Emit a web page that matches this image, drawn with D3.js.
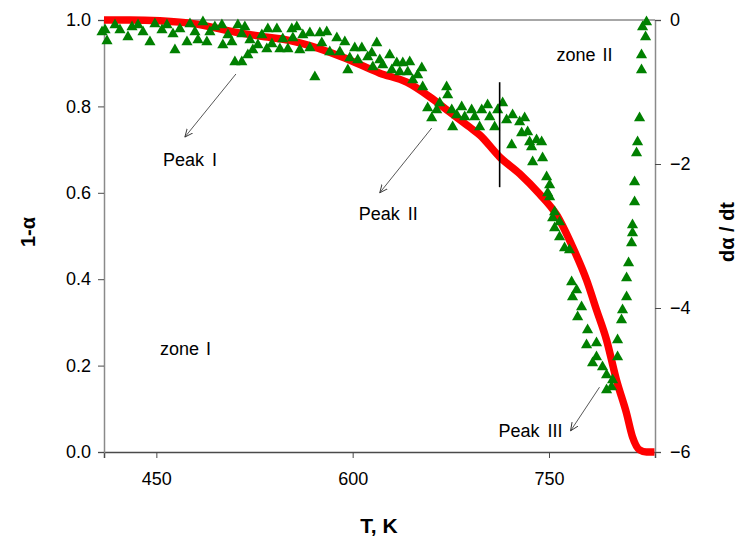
<!DOCTYPE html>
<html>
<head>
<meta charset="utf-8">
<script src="https://cdn.jsdelivr.net/npm/d3@7"></script>
<style>
  body { margin: 0; background: #fff; }
  text { font-family: "Liberation Sans", Arial, sans-serif; }
</style>
</head>
<body>
<div id="chart-area"></div>
<script>
// 1-alpha vs T (red)
var tempRed = [410, 429.8, 452.7, 479.5, 510, 532.9, 545.9, 559.6, 592.4, 620.7, 641.3, 658.9, 674.1,
  689.4, 697, 712.3, 727.6, 742.8, 755.8, 768, 778.7, 786.3, 794, 801.6, 809.2, 813.8, 819.2, 824.5, 830.6];
var convRed = [1.0, 1.0, 0.998, 0.991, 0.972, 0.961, 0.956, 0.947, 0.914, 0.877, 0.856, 0.822, 0.787,
  0.752, 0.734, 0.683, 0.644, 0.597, 0.549, 0.475, 0.398, 0.329, 0.259, 0.166, 0.090, 0.035, 0.005, 0, 0];

// d alpha / dt vs T (green triangles)
var tempGreen = [408.5, 410.8, 412.3, 418.4, 422.2, 428.3, 431.4, 436.0, 439.8, 445.1, 448.9, 454.3, 458.1,
  462.7, 464.2, 468.0, 473.4, 475.7, 479.5, 481.8, 485.6, 488.6, 490.9, 494.7, 500.1, 500.8, 504.7, 507.7,
  510.0, 512.3, 515.3, 515.3, 517.6, 519.9, 521.5, 523.7, 527.6, 530.6, 534.4, 535.2, 538.3, 542.1, 544.4,
  546.6, 550.5, 553.5, 554.3, 557.3, 559.6, 561.9, 567.3, 567.3, 571.1, 574.9, 576.4, 580.2, 582.5, 587.9,
  590.2, 594.0, 596.3, 597.8, 601.6, 603.9, 607.0, 611.5, 614.6, 615.4, 618.4, 620.7, 623.0, 628.3, 629.9,
  633.7, 636.0, 638.3, 642.1, 643.6, 645.9, 649.7, 652.8, 653.5, 657.3, 660.4, 664.2, 666.5, 671.8, 672.6,
  675.7, 676.4, 679.5, 683.3, 685.6, 690.9, 693.2, 697.0, 698.6, 703.1, 704.7, 708.5, 710.8, 714.6, 717.6,
  721.5, 722.2, 727.6, 731.4, 729.1, 733.7, 735.2, 740.5, 736.7, 737.5, 745.1, 744.4, 748.2, 750.5, 749.0,
  750.5, 754.3, 752.8, 758.1, 754.3, 758.1, 761.9, 765.7, 767.3, 771.1, 768.0, 774.9, 771.9, 779.5, 778.7,
  786.3, 786.3, 783.3, 790.9, 794.0, 798.6, 794.0, 797.8, 802.4, 802.4, 805.4, 806.2, 809.3, 809.3, 810.8,
  813.1, 813.8, 813.8, 815.4, 815.4, 816.9, 817.7, 819.2, 820.7, 820.7, 823.8, 821.5, 824.5];
var rateGreen = [-0.167, -0.139, -0.292, -0.069, -0.139, -0.236, -0.097, -0.069, -0.167, -0.306, -0.056, -0.139, -0.069,
  -0.194, -0.417, -0.125, -0.306, -0.056, -0.167, -0.278, -0.028, -0.306, -0.167, -0.097, -0.069, -0.347, -0.208, -0.306,
  -0.583, -0.069, -0.583, -0.194, -0.097, -0.486, -0.278, -0.417, -0.347, -0.208, -0.403, -0.125, -0.333, -0.125, -0.403,
  -0.264, -0.403, -0.125, -0.250, -0.097, -0.417, -0.208, -0.181, -0.389, -0.792, -0.181, -0.319, -0.167, -0.444, -0.250,
  -0.444, -0.306, -0.694, -0.528, -0.389, -0.556, -0.389, -0.514, -0.458, -0.653, -0.319, -0.556, -0.625, -0.486, -0.694,
  -0.597, -0.722, -0.597, -0.722, -0.583, -0.833, -0.764, -0.667, -0.931, -1.222, -1.361, -1.250, -1.153, -0.931, -1.042,
  -1.250, -1.486, -1.319, -1.208, -1.347, -1.250, -1.347, -1.486, -1.250, -1.181, -1.347, -1.486, -1.250, -1.153, -1.389,
  -1.736, -1.319, -1.417, -1.361, -1.569, -1.556, -1.694, -1.667, -1.764, -1.972, -1.917, -1.694, -2.181, -2.292, -2.403,
  -2.458, -2.667, -2.750, -2.806, -2.889, -3.014, -3.167, -3.194, -3.639, -3.750, -3.847, -3.986, -4.125, -4.306, -4.514,
  -4.486, -4.681, -4.764, -4.819, -4.931, -5.000, -5.139, -5.097, -4.681, -4.444, -4.167, -4.028, -3.847, -3.583, -3.375,
  -3.097, -2.958, -2.847, -2.528, -2.250, -1.847, -1.694, -1.361, -0.694, -0.486, -0.236, -0.097, -0.028];

var xTicks = [450, 600, 750];
var leftTicks = [0.0, 0.2, 0.4, 0.6, 0.8, 1.0];
var rightTicks = [0, -2, -4, -6];

// annotations (T, 1-alpha)
var peakLabels = ["Peak I", "Peak II", "Peak III"];
var peakTextT = [455, 604.7, 711.5];
var peakTextY = [0.662, 0.537, 0.035];
var arrowFromT = [510.8, 660.4, 788.6];
var arrowFromY = [0.875, 0.750, 0.150];
var arrowToT = [471.8, 620.7, 766.5];
var arrowToY = [0.729, 0.600, 0.049];
var zoneLabels = ["zone I", "zone II"];
var zoneT = [452.7, 755.8];
var zoneY = [0.225, 0.905];
var splitT = 712.3;
var splitY = [0.613, 0.856];

var completeWidth = 738,
    completeHeight = 542;
var margin = { left: 104, right: 83, top: 20, bottom: 90 };
var width = completeWidth - margin.left - margin.right,
    height = completeHeight - margin.top - margin.bottom;

var svg = d3.select("#chart-area").append("svg")
    .attr("width", completeWidth)
    .attr("height", completeHeight);

var g = svg.append("g")
    .attr("transform", "translate(" + margin.left + "," + margin.top + ")");

// scales
var x = d3.scaleLinear().domain([410, 831]).range([0, width]);
var yL = d3.scaleLinear().domain([0, 1]).range([height, 0]);
var yR = d3.scaleLinear().domain([-6, 0]).range([height, 0]);

// top frame line in gray
g.append("line").attr("x1", 0).attr("x2", width).attr("y1", 0).attr("y2", 0)
    .attr("stroke", "#8a8a8a").attr("stroke-width", 1.5);

// axes
var xAxis = g.append("g")
    .attr("transform", "translate(0," + height + ")")
    .call(d3.axisBottom(x).tickValues(xTicks).tickSizeOuter(0).tickSize(6).tickPadding(14));
xAxis.select(".domain").attr("stroke", "#4a4a4a").attr("stroke-width", 1.5);

var leftAxis = g.append("g")
    .call(d3.axisLeft(yL).tickValues(leftTicks).tickFormat(d3.format(".1f")).tickSizeOuter(0).tickSize(6).tickPadding(7));
leftAxis.select(".domain").attr("stroke", "#8a8a8a").attr("stroke-width", 1.5);

var rightAxis = g.append("g")
    .attr("transform", "translate(" + width + ",0)")
    .call(d3.axisRight(yR).tickValues(rightTicks).tickFormat(d3.format("d")).tickSizeOuter(0).tickSize(6).tickPadding(9));
rightAxis.select(".domain").attr("stroke", "#8a8a8a").attr("stroke-width", 1.5);

g.selectAll(".tick line").attr("stroke", "#4a4a4a");
g.selectAll(".tick text").attr("font-size", "18px").attr("fill", "#000")
    .style("font-family", "'Liberation Sans', Arial, sans-serif");

// red conversion curve
var redData = tempRed.map(function(t, i) { return [t, convRed[i]]; });
var line = d3.line().x(function(d) { return x(d[0]); }).y(function(d) { return yL(d[1]); })
    .curve(d3.curveMonotoneX);
g.append("path")
    .datum(redData)
    .attr("fill", "none")
    .attr("stroke", "#ff0000")
    .attr("stroke-width", 7.5)
    .attr("stroke-linejoin", "round")
    .attr("d", line);

// green rate triangles
var greenData = tempGreen.map(function(t, i) { return [t, rateGreen[i]]; });
var tri = d3.symbol().type(d3.symbolTriangle).size(54);
g.selectAll(".tri")
    .data(greenData)
    .enter().append("path")
    .attr("class", "tri")
    .attr("transform", function(d) { return "translate(" + x(d[0]) + "," + yR(d[1]) + ")"; })
    .attr("d", tri)
    .attr("fill", "#008000");

// vertical divider
g.append("line")
    .attr("x1", x(splitT)).attr("x2", x(splitT))
    .attr("y1", yL(splitY[0])).attr("y2", yL(splitY[1]))
    .attr("stroke", "#000").attr("stroke-width", 1.6);

// arrows
svg.append("defs").append("marker")
    .attr("id", "head")
    .attr("viewBox", "0 0 10 10")
    .attr("refX", 9).attr("refY", 5)
    .attr("markerWidth", 9).attr("markerHeight", 9)
    .attr("markerUnits", "userSpaceOnUse")
    .attr("orient", "auto")
  .append("path")
    .attr("d", "M0,1 L9,5 L0,9")
    .attr("fill", "none")
    .attr("stroke", "#333")
    .attr("stroke-width", 1);

peakLabels.forEach(function(lbl, i) {
  g.append("line")
    .attr("x1", x(arrowFromT[i])).attr("y1", yL(arrowFromY[i]))
    .attr("x2", x(arrowToT[i])).attr("y2", yL(arrowToY[i]))
    .attr("stroke", "#444").attr("stroke-width", 0.9)
    .attr("marker-end", "url(#head)");
  g.append("text")
    .attr("x", x(peakTextT[i])).attr("y", yL(peakTextY[i]))
    .attr("font-size", "18px")
    .attr("word-spacing", "3px")
    .text(lbl);
});

zoneLabels.forEach(function(lbl, i) {
  g.append("text")
    .attr("x", x(zoneT[i])).attr("y", yL(zoneY[i]))
    .attr("font-size", "18px")
    .attr("word-spacing", "2px")
    .text(lbl);
});

// axis titles
svg.append("text")
    .attr("x", 379).attr("y", 533)
    .attr("text-anchor", "middle")
    .attr("font-size", "21px").attr("font-weight", "bold")
    .text("T, K");
svg.append("text")
    .attr("transform", "translate(35,232) rotate(-90)")
    .attr("text-anchor", "middle")
    .attr("font-size", "20px").attr("font-weight", "bold")
    .text("1-α");
svg.append("text")
    .attr("transform", "translate(734,232) rotate(-90)")
    .attr("text-anchor", "middle")
    .attr("font-size", "20px").attr("font-weight", "bold")
    .text("dα / dt");
</script>
</body>
</html>
